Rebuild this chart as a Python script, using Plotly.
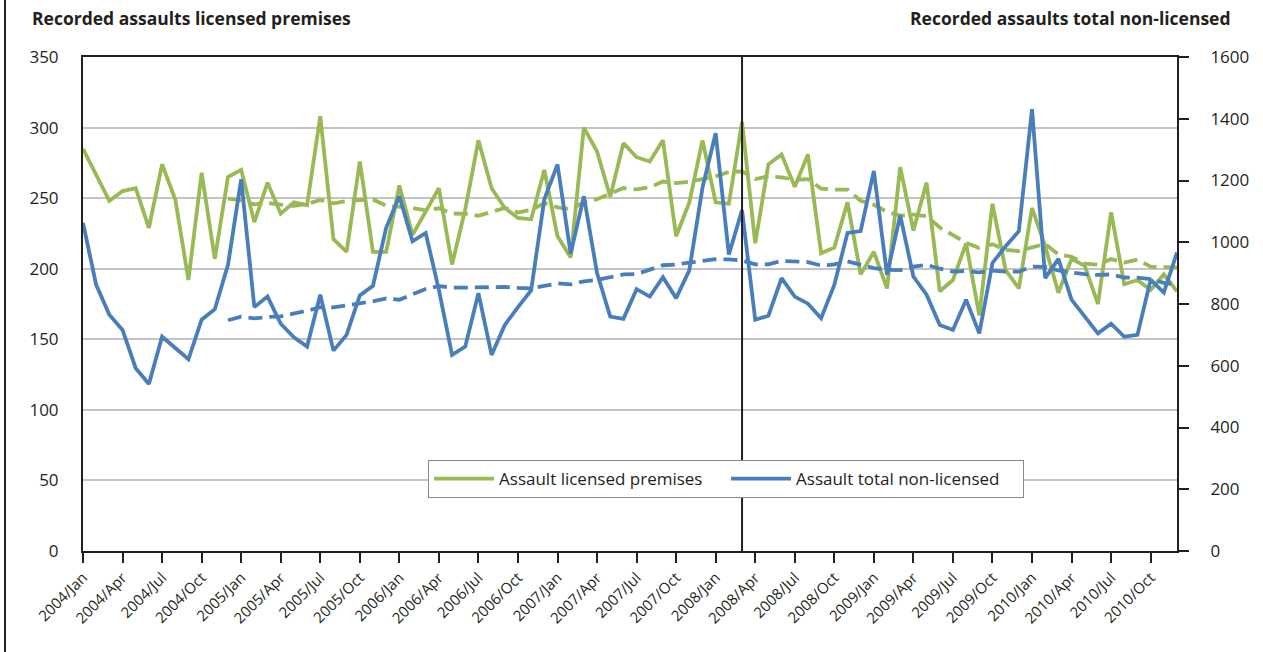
import plotly.graph_objects as go
import pandas as pd

years = list(range(2004, 2011))
month_names = ["Jan", "Feb", "Mar", "Apr", "May", "Jun", "Jul", "Aug", "Sep", "Oct", "Nov", "Dec"]
months = [f"{y}/{m}" for y in years for m in month_names]

licensed = [285, 267, 248, 255, 257, 229, 274, 249, 192, 268, 207, 265,
            270, 233, 261, 239, 247, 245, 308, 221, 212, 276, 212, 212,
            259, 224, 241, 257, 203, 242, 291, 257, 243, 236, 235, 270,
            223, 208, 300, 283, 251, 289, 279, 276, 291, 223, 247, 291,
            247, 246, 304, 218, 274, 281, 258, 281, 211, 215, 247, 196,
            212, 186, 272, 227, 261, 184, 192, 218, 167, 246, 199, 186,
            243, 216, 183, 207, 202, 175, 240, 189, 192, 185, 196, 184]

non_licensed = [1063, 862, 765, 716, 592, 541, 694, 657, 621, 749, 783, 927,
                1204, 790, 824, 736, 692, 662, 830, 649, 700, 828, 859, 1047,
                1149, 1003, 1030, 846, 635, 662, 835, 635, 732, 790, 844, 1139,
                1252, 963, 1149, 900, 759, 752, 848, 824, 887, 819, 909, 1177,
                1353, 960, 1104, 749, 762, 884, 824, 801, 754, 862, 1030, 1036,
                1231, 895, 1087, 889, 830, 732, 716, 814, 705, 933, 987, 1036,
                1431, 884, 946, 814, 759, 705, 736, 694, 700, 879, 837, 967]

# 12-month moving average trend lines (as in the original chart's trendlines)
ma_window = 12
licensed_ma = pd.Series(licensed).rolling(ma_window).mean().tolist()
non_licensed_ma = pd.Series(non_licensed).rolling(ma_window).mean().tolist()

marker_month = "2008/Mar"
left_title = "Recorded assaults licensed premises"
right_title = "Recorded assaults total non-licensed"

GREEN = "#98B954"
BLUE = "#4A7EBB"
INK = "#231f20"
FONT = "Open Sans"

fig = go.Figure()
fig.add_trace(go.Scatter(x=months, y=licensed, mode="lines", name="Assault licensed premises",
                         line=dict(color=GREEN, width=3.8), yaxis="y"))
fig.add_trace(go.Scatter(x=months, y=non_licensed, mode="lines", name="Assault total non-licensed",
                         line=dict(color=BLUE, width=3.8), yaxis="y2"))
fig.add_trace(go.Scatter(x=months, y=licensed_ma, mode="lines", showlegend=False,
                         line=dict(color=GREEN, width=3.8, dash="14px,7px"), yaxis="y"))
fig.add_trace(go.Scatter(x=months, y=non_licensed_ma, mode="lines", showlegend=False,
                         line=dict(color=BLUE, width=3.8, dash="14px,7px"), yaxis="y2"))

fig.update_layout(
    width=1263, height=652,
    margin=dict(l=83, r=86, t=57, b=101),
    paper_bgcolor="white", plot_bgcolor="white",
    font=dict(family=FONT, size=17, color=INK),
    xaxis=dict(type="category", categoryorder="array", categoryarray=months,
               range=[0, len(months) - 1], tickmode="array", tickvals=months[::3],
               tickangle=-45, tickfont=dict(size=15), ticks="outside", ticklen=10,
               tickwidth=2, tickcolor=INK, showline=True, linecolor=INK,
               linewidth=2, mirror=True, showgrid=False, zeroline=False),
    yaxis=dict(range=[0, 350], dtick=50, showgrid=True, gridcolor="#c4c4c8", gridwidth=2,
               showline=True, linecolor=INK, linewidth=2, ticks="", zeroline=False,
               ticklabelstandoff=19),
    yaxis2=dict(range=[0, 1600], dtick=200, overlaying="y", side="right", showgrid=False,
                showline=True, linecolor=INK, linewidth=2, ticks="outside", ticklen=10,
                tickwidth=2, tickcolor=INK, zeroline=False, ticklabelstandoff=18),
    legend=dict(orientation="h", x=0.3154, y=0.184, xanchor="left", yanchor="top",
                bordercolor="#8a8a8a", borderwidth=1, bgcolor="white",
                font=dict(size=17), itemwidth=60, entrywidth=222, entrywidthmode="pixels"),
    shapes=[
        dict(type="line", xref="x", yref="paper", x0=months.index(marker_month),
             x1=months.index(marker_month), y0=0, y1=1, line=dict(color=INK, width=2)),
        dict(type="line", xref="paper", yref="paper", x0=-0.0713, x1=-0.0713,
             y0=-0.21, y1=1.12, line=dict(color=INK, width=2)),
    ],
    annotations=[
        dict(text=f"<b>{left_title}</b>", xref="paper", yref="paper", x=-0.0484, y=1.078,
             xanchor="left", yanchor="middle", showarrow=False, font=dict(size=17.5)),
        dict(text=f"<b>{right_title}</b>", xref="paper", yref="paper", x=1.0512, y=1.078,
             xanchor="right", yanchor="middle", showarrow=False, font=dict(size=17.5)),
    ],
)

fig.write_html("out.html", config={"displayModeBar": False},
               post_script="document.body.style.margin='0';")
